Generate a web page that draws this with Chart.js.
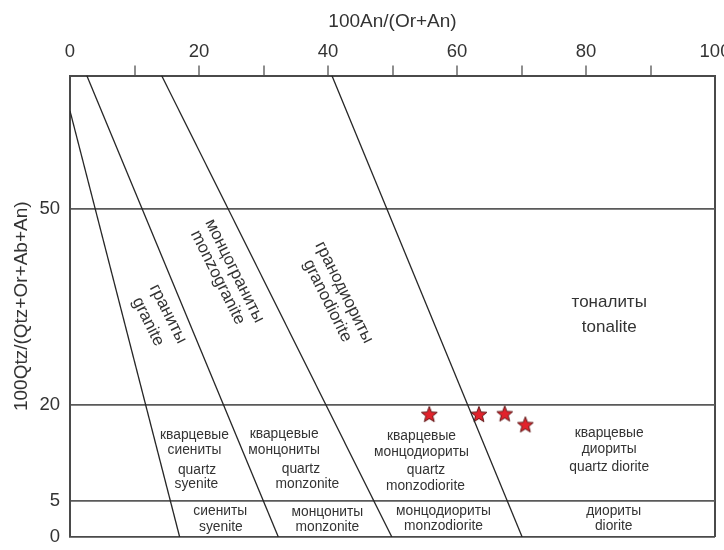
<!DOCTYPE html>
<html>
<head>
<meta charset="utf-8">
<script src="https://cdn.jsdelivr.net/npm/chart.js@4.4.1/dist/chart.umd.min.js"></script>
<style>
  html, body { margin: 0; padding: 0; background: #ffffff; }
  #wrap { width: 724px; height: 550px; }
</style>
</head>
<body>
<div id="wrap"><canvas id="qap" width="724" height="550"></canvas></div>
<script>
// ---- axes ----
const X_TICKS = [0, 10, 20, 30, 40, 50, 60, 70, 80, 90, 100];
const X_TICK_LABELS = [0, 20, 40, 60, 80, 100];
const Y_TICKS = [0, 5, 20, 50];
const Y_MAX = 70;

// ---- field boundaries (upper end -> Qtz = 0 baseline) ----
const BOUNDARY_TOP_AN  = [0, 2.6, 14.2, 40.6];
const BOUNDARY_TOP_QTZ = [64.7, 70, 70, 70];
const BOUNDARY_BASE_AN = [17.0, 32.3, 49.9, 70.1];

// ---- samples ----
const SAMPLE_AN  = [55.7, 63.4, 67.4, 70.6];
const SAMPLE_QTZ = [18.5, 18.5, 18.6, 16.9];

// ---- field names (anchored in An / Qtz units) ----
const FIELD_LABELS = [
  { text: 'кварцевые',    an: 19.3, qtz: 15.2, kind: 'small' },
  { text: 'сиениты',      an: 19.3, qtz: 12.8, kind: 'small' },
  { text: 'quartz',       an: 19.7, qtz: 9.8,  kind: 'small' },
  { text: 'syenite',      an: 19.6, qtz: 7.5,  kind: 'small' },
  { text: 'кварцевые',    an: 33.2, qtz: 15.4, kind: 'small' },
  { text: 'монцониты',    an: 33.2, qtz: 12.9, kind: 'small' },
  { text: 'quartz',       an: 35.8, qtz: 9.9,  kind: 'small' },
  { text: 'monzonite',    an: 36.8, qtz: 7.6,  kind: 'small' },
  { text: 'кварцевые',    an: 54.5, qtz: 15.1, kind: 'small' },
  { text: 'монцодиориты', an: 54.5, qtz: 12.6, kind: 'small' },
  { text: 'quartz',       an: 55.2, qtz: 9.7,  kind: 'small' },
  { text: 'monzodiorite', an: 55.1, qtz: 7.2,  kind: 'small' },
  { text: 'кварцевые',    an: 83.6, qtz: 15.5, kind: 'small' },
  { text: 'диориты',      an: 83.6, qtz: 13.1, kind: 'small' },
  { text: 'quartz diorite', an: 83.6, qtz: 10.2, kind: 'small' },
  { text: 'сиениты',      an: 23.3, qtz: 3.6,  kind: 'small' },
  { text: 'syenite',      an: 23.4, qtz: 1.4,  kind: 'small' },
  { text: 'монцониты',    an: 39.9, qtz: 3.4,  kind: 'small' },
  { text: 'monzonite',    an: 39.9, qtz: 1.3,  kind: 'small' },
  { text: 'монцодиориты', an: 57.9, qtz: 3.5,  kind: 'small' },
  { text: 'monzodiorite', an: 57.9, qtz: 1.5,  kind: 'small' },
  { text: 'диориты',      an: 84.3, qtz: 3.6,  kind: 'small' },
  { text: 'diorite',      an: 84.3, qtz: 1.5,  kind: 'small' },
  { text: 'граниты',      an: 15.2, qtz: 33.9, kind: 'slanted' },
  { text: 'granite',      an: 12.1, qtz: 32.7, kind: 'slanted' },
  { text: 'монцограниты', an: 25.5, qtz: 40.5, kind: 'slanted' },
  { text: 'monzogranite', an: 22.9, qtz: 39.5, kind: 'slanted' },
  { text: 'гранодиориты', an: 42.5, qtz: 37.2, kind: 'slanted' },
  { text: 'granodiorite', an: 39.9, qtz: 35.9, kind: 'slanted' },
  { text: 'тоналиты',     an: 83.6, qtz: 35.7, kind: 'large' },
  { text: 'tonalite',     an: 83.6, qtz: 31.9, kind: 'large' }
];

// ---- styling ----
const FONT_FAMILY = '"Liberation Sans", Arial, Helvetica, sans-serif';
const TEXT_COLOR = '#333333';
const FRAME_COLOR = '#4a4a4a';
const LEVEL_COLOR = '#5a5a5a';
const BOUNDARY_COLOR = '#262626';
const LABEL_STYLES = {
  small:   { size: 13.8, angle: 0 },
  slanted: { size: 17,   angle: 63.5 },
  large:   { size: 17,   angle: 0 }
};

Chart.defaults.font.family = FONT_FAMILY;
Chart.defaults.color = TEXT_COLOR;

// Vertical axis drawn as piecewise-linear bands between the labelled levels
const Y_BAND_SPLITS = [[0, 0], [5, 0.0787], [20, 0.2871], [50, 0.7107], [Y_MAX, 1]];
function bandFraction(v) {
  const k = Y_BAND_SPLITS;
  if (v <= k[0][0]) return k[0][1] + (v - k[0][0]) * (k[1][1] - k[0][1]) / (k[1][0] - k[0][0]);
  for (let i = 1; i < k.length; i++) {
    if (v <= k[i][0] || i === k.length - 1) {
      const [v0, f0] = k[i - 1], [v1, f1] = k[i];
      return f0 + (v - v0) * (f1 - f0) / (v1 - v0);
    }
  }
  return 1;
}
function bandValue(f) {
  const k = Y_BAND_SPLITS;
  for (let i = 1; i < k.length; i++) {
    if (f <= k[i][1] || i === k.length - 1) {
      const [v0, f0] = k[i - 1], [v1, f1] = k[i];
      return v0 + (f - f0) * (v1 - v0) / (f1 - f0);
    }
  }
  return k[k.length - 1][0];
}
class BandedScale extends Chart.LinearScale {
  getPixelForValue(value) {
    if (value === null || value === undefined || Number.isNaN(+value)) return NaN;
    return this.getPixelForDecimal(bandFraction(+value));
  }
  getValueForPixel(pixel) {
    return bandValue(this.getDecimalForPixel(pixel));
  }
}
BandedScale.id = 'banded';
BandedScale.defaults = {};
Chart.register(BandedScale);

// Filled red star marker
function makeStar() {
  const R = 8.4, r = R * 0.43, size = 20;
  const c = document.createElement('canvas');
  c.width = size; c.height = size;
  const g = c.getContext('2d');
  g.beginPath();
  for (let k = 0; k < 10; k++) {
    const rad = k % 2 ? r : R;
    const a = -Math.PI / 2 + k * Math.PI / 5;
    const px = size / 2 + rad * Math.cos(a);
    const py = size / 2 + 0.8 + rad * Math.sin(a);
    if (k === 0) g.moveTo(px, py); else g.lineTo(px, py);
  }
  g.closePath();
  g.fillStyle = '#e2222b';
  g.fill();
  g.lineWidth = 1;
  g.strokeStyle = '#5e1414';
  g.stroke();
  return c;
}

// Field names drawn through the chart scales
const fieldLabels = {
  id: 'fieldLabels',
  afterDatasetsDraw(chart) {
    const { ctx, scales: { x, y } } = chart;
    FIELD_LABELS.forEach(l => {
      const st = LABEL_STYLES[l.kind];
      ctx.save();
      ctx.translate(x.getPixelForValue(l.an), y.getPixelForValue(l.qtz));
      ctx.rotate(st.angle * Math.PI / 180);
      ctx.font = st.size + 'px ' + FONT_FAMILY;
      ctx.fillStyle = TEXT_COLOR;
      ctx.textAlign = 'center';
      ctx.textBaseline = 'middle';
      ctx.fillText(l.text, 0, 0);
      ctx.restore();
    });
  }
};

const datasets = BOUNDARY_TOP_AN.map((an, i) => ({
  data: [{ x: an, y: BOUNDARY_TOP_QTZ[i] }, { x: BOUNDARY_BASE_AN[i], y: 0 }],
  showLine: true,
  borderColor: BOUNDARY_COLOR,
  borderWidth: 1.3,
  pointRadius: 0,
  pointHoverRadius: 0,
  fill: false
}));
datasets.push({
  data: SAMPLE_AN.map((an, i) => ({ x: an, y: SAMPLE_QTZ[i] })),
  showLine: false,
  pointStyle: makeStar(),
  pointRadius: 8,
  pointHoverRadius: 8
});

new Chart(document.getElementById('qap'), {
  type: 'scatter',
  data: { datasets },
  plugins: [fieldLabels],
  options: {
    responsive: false,
    animation: false,
    events: [],
    layout: { padding: { top: 0, left: 0, right: 6, bottom: 13 } },
    plugins: { legend: { display: false }, tooltip: { enabled: false } },
    scales: {
      x: {
        type: 'linear',
        position: 'top',
        min: 0,
        max: 100,
        afterBuildTicks: s => { s.ticks = X_TICKS.map(v => ({ value: v })); },
        afterFit: s => { s.height = 75.5; s.paddingLeft = 0; s.paddingRight = 0; },
        ticks: {
          autoSkip: false,
          maxRotation: 0,
          padding: 2,
          font: { size: 18.5 },
          color: TEXT_COLOR,
          callback: v => (X_TICK_LABELS.includes(v) ? String(v) : '')
        },
        grid: {
          drawOnChartArea: true,
          drawTicks: true,
          tickLength: 10,
          lineWidth: 2,
          tickWidth: 1.2,
          color: c => (c.tick && c.tick.value === 100 ? FRAME_COLOR : 'rgba(0,0,0,0)'),
          tickColor: c => (c.tick && c.tick.value > 0 && c.tick.value < 100 ? '#444444' : 'rgba(0,0,0,0)')
        },
        border: { display: true, color: FRAME_COLOR, width: 2 },
        title: {
          display: true,
          text: '100An/(Or+An)',
          font: { size: 19 },
          color: TEXT_COLOR,
          padding: { top: 10, bottom: 0 }
        }
      },
      y: {
        type: 'banded',
        position: 'left',
        min: 0,
        max: Y_MAX,
        afterBuildTicks: s => { s.ticks = Y_TICKS.map(v => ({ value: v })); },
        afterFit: s => { s.width = 70; s.paddingTop = 0; s.paddingBottom = 0; },
        ticks: {
          padding: 10,
          font: { size: 18.5 },
          color: TEXT_COLOR,
          callback: v => String(v)
        },
        grid: {
          drawTicks: false,
          lineWidth: 1.8,
          color: c => (c.tick && c.tick.value === 0 ? FRAME_COLOR : LEVEL_COLOR)
        },
        border: { display: true, color: FRAME_COLOR, width: 2 },
        title: {
          display: true,
          text: '100Qtz/(Qtz+Or+Ab+An)',
          font: { size: 19 },
          color: TEXT_COLOR,
          padding: { top: 10.5, bottom: 0 }
        }
      }
    }
  }
});
</script>
</body>
</html>
